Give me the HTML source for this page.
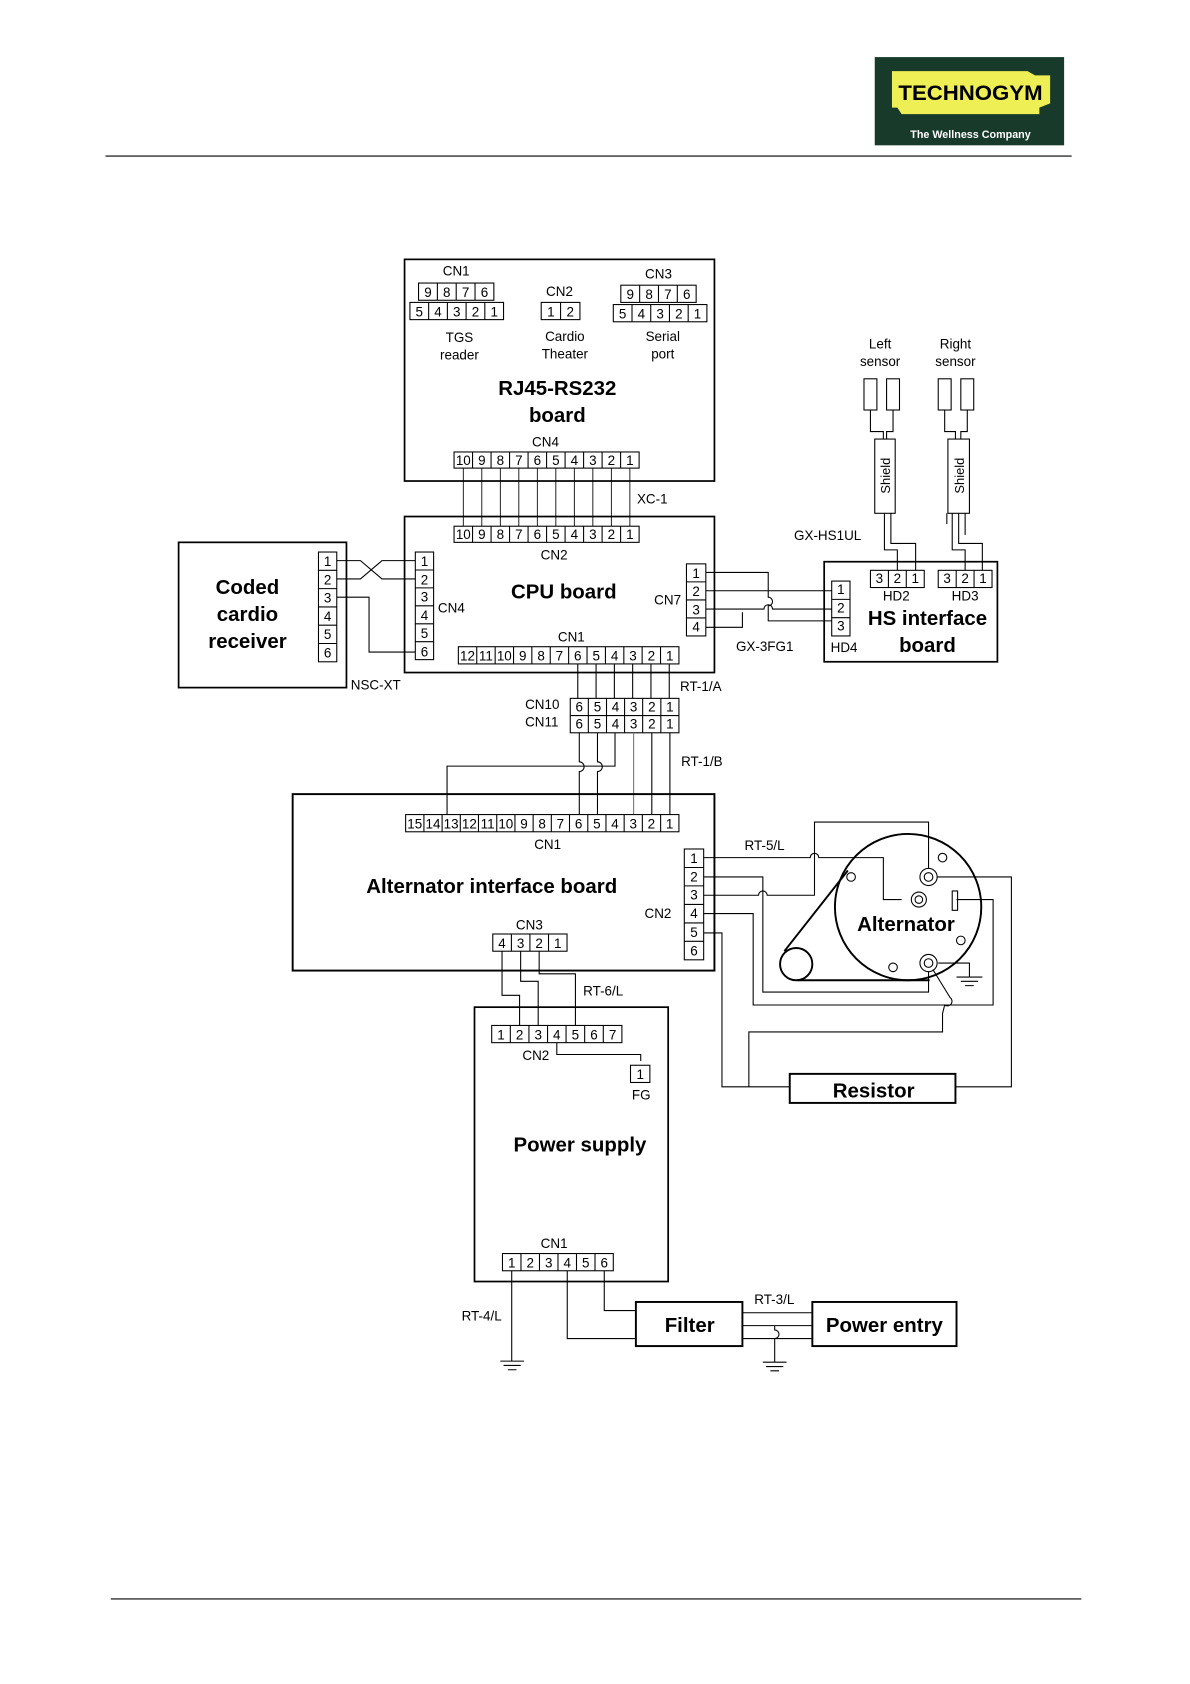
<!DOCTYPE html>
<html><head><meta charset="utf-8"><style>
html,body{margin:0;padding:0;background:#fff;}
svg{display:block;}
text{font-family:"Liberation Sans",Arial,sans-serif;fill:#000;}
.c{font-size:12.5px;text-anchor:middle;}
.l{font-size:12.5px;}
.b{font-size:19px;font-weight:bold;text-anchor:middle;}
</style></head><body>
<svg width="1190" height="1684" viewBox="0 0 1106 1565" xmlns="http://www.w3.org/2000/svg">
<g fill="none" stroke="#000" stroke-width="1">
<rect x="813" y="53" width="176" height="82" fill="#173a2a" stroke="none"/>
<polygon points="829,66 955,66 962,70 976,70 976,96 966,100 966,106 838,106 834,100 829,100" fill="#eeee55" stroke="none"/>
<line x1="98" y1="145" x2="996" y2="145"/>
<line x1="103" y1="1486" x2="1005" y2="1486"/>

<rect x="376" y="241" width="288" height="206" stroke-width="1.6"/>
<rect x="389" y="263" width="70" height="16"/><path d="M406.5 263v16M424 263v16M441.5 263v16"/>
<rect x="381" y="281" width="87" height="16"/><path d="M398.4 281v16M415.8 281v16M433.2 281v16M450.6 281v16"/>
<rect x="503" y="281" width="36" height="16"/><path d="M521 281v16"/>
<rect x="577" y="265" width="70" height="16"/><path d="M594.5 265v16M612 265v16M629.5 265v16"/>
<rect x="570" y="283" width="87" height="16"/><path d="M587.4 283v16M604.8 283v16M622.2 283v16M639.6 283v16"/>
<rect x="422" y="420" width="172" height="15"/>
<path d="M439.2 420v15M456.4 420v15M473.6 420v15M490.8 420v15M508 420v15M525.2 420v15M542.4 420v15M559.6 420v15M576.8 420v15"/>
<path d="M430.6 435v54M447.8 435v54M465 435v54M482.2 435v54M499.4 435v54M516.6 435v54M533.8 435v54M551 435v54M568.2 435v54M585.4 435v54" stroke-width="0.8"/>

<rect x="376" y="480" width="288" height="145" stroke-width="1.6"/>
<rect x="422" y="489" width="172" height="15"/>
<path d="M439.2 489v15M456.4 489v15M473.6 489v15M490.8 489v15M508 489v15M525.2 489v15M542.4 489v15M559.6 489v15M576.8 489v15"/>
<rect x="386" y="513" width="17" height="100"/><path d="M386 529.7h17M386 546.3h17M386 563h17M386 579.7h17M386 596.3h17"/>
<rect x="638" y="524" width="18" height="67"/><path d="M638 540.75h18M638 557.5h18M638 574.25h18"/>
<rect x="426" y="601" width="205" height="16"/>
<path d="M443.1 601v16M460.2 601v16M477.3 601v16M494.3 601v16M511.4 601v16M528.5 601v16M545.6 601v16M562.7 601v16M579.8 601v16M596.8 601v16M613.9 601v16"/>

<rect x="166" y="504" width="156" height="135" stroke-width="1.6"/>
<rect x="296" y="513" width="17" height="102"/><path d="M296 530h17M296 547h17M296 564h17M296 581h17M296 598h17"/>
<path d="M313 521h22l20 17h31M313 538h22l20-17h31M313 555h30v51h43"/>

<path d="M656 532h58v23a4 4 0 0 1 0 8v14h59"/>
<path d="M656 549h117"/>
<path d="M656 566h54a4 4 0 0 1 8 0h55"/>
<path d="M656 583h34v-14"/>

<rect x="766" y="522" width="161" height="93" stroke-width="1.6"/>
<rect x="773" y="540" width="17" height="51"/><path d="M773 557h17M773 574h17"/>
<rect x="809" y="530" width="50" height="16"/><path d="M825.7 530v16M842.3 530v16"/>
<rect x="872" y="530" width="50" height="16"/><path d="M888.7 530v16M905.3 530v16"/>
<rect x="803" y="352" width="12" height="29"/><rect x="824" y="352" width="12" height="29"/>
<rect x="872" y="352" width="12" height="29"/><rect x="893" y="352" width="12" height="29"/>
<rect x="813" y="408" width="19" height="69"/><rect x="881" y="408" width="20" height="69"/>
<path d="M809 381v20h12v7M830 381v20h-6v7M878 381v20h10v7M899 381v20h-6v7"/>
<path d="M822 477v34h12v19M828 477v28h23v25"/>
<path d="M880 477v10M885 477v34h12v19M891 477v28h22v25M897 477v20"/>

<path d="M537 617v32M554 617v32M571 617v32M588 617v32M605 617v32M622 617v32"/>
<rect x="530" y="649" width="101" height="32"/><path d="M530 665h101"/>
<path d="M546.8 649v32M563.7 649v32M580.5 649v32M597.3 649v32M614.2 649v32"/>
<path d="M571.6 681v31H415.5v45"/>
<path d="M538.4 681v27a4 4 0 0 1 0 9v40M555.3 681v27a4 4 0 0 1 0 9v40"/>
<path d="M588.9 681v76" stroke="#777"/><path d="M605.8 681v76M622.6 681v76"/>

<rect x="272" y="738" width="392" height="164" stroke-width="1.8"/>
<rect x="377" y="757" width="254" height="16"/>
<path d="M394 757v16M410.9 757v16M427.8 757v16M444.7 757v16M461.7 757v16M478.6 757v16M495.5 757v16M512.4 757v16M529.3 757v16M546.3 757v16M563.2 757v16M580.1 757v16M597 757v16M614 757v16"/>
<rect x="636" y="789" width="18" height="103"/><path d="M636 806.2h18M636 823.3h18M636 840.5h18M636 857.7h18M636 874.8h18"/>
<rect x="458" y="868" width="69" height="16"/><path d="M475.3 868v16M492.5 868v16M509.8 868v16"/>

<path d="M654 797h99a4 4 0 0 1 8 0h60v39h17"/>
<path d="M654 815h55v107h154v-19"/>
<path d="M654 832h51a4 4 0 0 1 8 0h44v-68h106v43"/>
<path d="M654 849h46v85h223v-98h-34"/>
<path d="M654 867h17v143h63"/>
<path d="M871 815h69v195h-52"/>
<path d="M867 901l16 26a4 4 0 0 1 -5 7l-2 8v17H696v51"/>
<path d="M872 895h29v13M889 908h24M893 912h16M897 916h8"/>
<circle cx="844" cy="843" r="68" stroke-width="1.8"/>
<circle cx="740" cy="896" r="15" stroke-width="1.8"/>
<path d="M729 884L788 809M741 911H864" stroke-width="1.8"/>
<circle cx="863" cy="815" r="8"/><circle cx="863" cy="815" r="4"/>
<circle cx="854" cy="836" r="7"/><circle cx="854" cy="836" r="3.5"/>
<circle cx="863" cy="895" r="8"/><circle cx="863" cy="895" r="4"/>
<circle cx="876" cy="797" r="4"/><circle cx="791" cy="815" r="4"/><circle cx="893" cy="874" r="4"/><circle cx="830" cy="899" r="4"/>
<rect x="885" y="828" width="5" height="18"/>
<rect x="734" y="998" width="154" height="27" stroke-width="1.8"/>

<path d="M466.6 884v41h16.3v28M483.9 884v28h16.3v41M501.1 884v21h33.7v48"/>
<rect x="441" y="936" width="180" height="255" stroke-width="1.6"/>
<rect x="457" y="953" width="121" height="16"/>
<path d="M474.3 953v16M491.6 953v16M508.9 953v16M526.1 953v16M543.4 953v16M560.7 953v16"/>
<path d="M517.5 969v11h78v6"/>
<rect x="586" y="990" width="18" height="16"/>
<rect x="467" y="1165" width="103" height="16"/>
<path d="M484.2 1165v16M501.4 1165v16M518.6 1165v16M535.8 1165v16M553 1165v16"/>
<path d="M475.6 1181v84M465 1265h22M468 1269h16M472 1273h8"/>
<path d="M527.2 1181v63h64M561.6 1181v37h30"/>
<rect x="591" y="1210" width="99" height="41" stroke-width="1.8"/>
<rect x="755" y="1210" width="134" height="41" stroke-width="1.8"/>
<path d="M690 1220h65M690 1232h65M690 1244h65"/>
<path d="M720 1232v4a4 4 0 0 1 0 8v22M709 1266h22M712 1270h16M716 1274h8"/>
</g>

<text x="902" y="93" textLength="134" lengthAdjust="spacingAndGlyphs" style="font-size:20px;font-weight:bold;text-anchor:middle;" fill="#000">TECHNOGYM</text>
<text x="902" y="128" style="font-size:10px;font-weight:bold;text-anchor:middle;fill:#fff;">The Wellness Company</text>

<text class="c" x="424" y="256">CN1</text>
<text class="c" x="397.75" y="276">9</text><text class="c" x="415.25" y="276">8</text><text class="c" x="432.75" y="276">7</text><text class="c" x="450.25" y="276">6</text>
<text class="c" x="389.7" y="294">5</text><text class="c" x="407.1" y="294">4</text><text class="c" x="424.5" y="294">3</text><text class="c" x="441.9" y="294">2</text><text class="c" x="459.3" y="294">1</text>
<text class="c" x="520" y="275">CN2</text>
<text class="c" x="512" y="294">1</text><text class="c" x="530" y="294">2</text>
<text class="c" x="612" y="259">CN3</text>
<text class="c" x="585.75" y="278">9</text><text class="c" x="603.25" y="278">8</text><text class="c" x="620.75" y="278">7</text><text class="c" x="638.25" y="278">6</text>
<text class="c" x="578.7" y="296">5</text><text class="c" x="596.1" y="296">4</text><text class="c" x="613.5" y="296">3</text><text class="c" x="630.9" y="296">2</text><text class="c" x="648.3" y="296">1</text>
<text class="c" x="427" y="318">TGS</text><text class="c" x="427" y="334">reader</text>
<text class="c" x="525" y="317">Cardio</text><text class="c" x="525" y="333">Theater</text>
<text class="c" x="616" y="317">Serial</text><text class="c" x="616" y="333">port</text>
<text class="b" x="518" y="367">RJ45-RS232</text><text class="b" x="518" y="392">board</text>
<text class="c" x="507" y="415">CN4</text>
<text class="c" x="430.6" y="432">10</text><text class="c" x="447.8" y="432">9</text><text class="c" x="465" y="432">8</text><text class="c" x="482.2" y="432">7</text><text class="c" x="499.4" y="432">6</text><text class="c" x="516.6" y="432">5</text><text class="c" x="533.8" y="432">4</text><text class="c" x="551" y="432">3</text><text class="c" x="568.2" y="432">2</text><text class="c" x="585.4" y="432">1</text>
<text class="c" x="430.6" y="501">10</text><text class="c" x="447.8" y="501">9</text><text class="c" x="465" y="501">8</text><text class="c" x="482.2" y="501">7</text><text class="c" x="499.4" y="501">6</text><text class="c" x="516.6" y="501">5</text><text class="c" x="533.8" y="501">4</text><text class="c" x="551" y="501">3</text><text class="c" x="568.2" y="501">2</text><text class="c" x="585.4" y="501">1</text>
<text class="l" x="592" y="468">XC-1</text>
<text class="c" x="515" y="520">CN2</text>
<text class="b" x="524" y="556">CPU board</text>
<text class="l" x="407" y="569">CN4</text>
<text class="l" x="608" y="562">CN7</text>
<text class="c" x="531" y="596">CN1</text>
<text class="c" x="394.5" y="526">1</text><text class="c" x="394.5" y="543">2</text><text class="c" x="394.5" y="559">3</text><text class="c" x="394.5" y="576">4</text><text class="c" x="394.5" y="593">5</text><text class="c" x="394.5" y="610">6</text>
<text class="c" x="647" y="537">1</text><text class="c" x="647" y="554">2</text><text class="c" x="647" y="571">3</text><text class="c" x="647" y="587">4</text>
<text class="c" x="434.5" y="614">12</text><text class="c" x="451.6" y="614">11</text><text class="c" x="468.7" y="614">10</text><text class="c" x="485.8" y="614">9</text><text class="c" x="502.9" y="614">8</text><text class="c" x="519.9" y="614">7</text><text class="c" x="537" y="614">6</text><text class="c" x="554.1" y="614">5</text><text class="c" x="571.2" y="614">4</text><text class="c" x="588.3" y="614">3</text><text class="c" x="605.4" y="614">2</text><text class="c" x="622.5" y="614">1</text>

<text class="b" x="230" y="552">Coded</text><text class="b" x="230" y="577">cardio</text><text class="b" x="230" y="602">receiver</text>
<text class="c" x="304.5" y="526">1</text><text class="c" x="304.5" y="543">2</text><text class="c" x="304.5" y="560">3</text><text class="c" x="304.5" y="577">4</text><text class="c" x="304.5" y="594">5</text><text class="c" x="304.5" y="611">6</text>
<text class="l" x="326" y="641">NSC-XT</text>

<text class="l" x="684" y="605">GX-3FG1</text>
<text class="l" x="738" y="502">GX-HS1UL</text>
<text class="c" x="818" y="324">Left</text><text class="c" x="818" y="340">sensor</text>
<text class="c" x="888" y="324">Right</text><text class="c" x="888" y="340">sensor</text>
<text style="font-size:12px;text-anchor:middle;" transform="translate(827,442) rotate(-90)">Shield</text>
<text style="font-size:12px;text-anchor:middle;" transform="translate(896,442) rotate(-90)">Shield</text>
<text class="c" x="817.3" y="542">3</text><text class="c" x="834" y="542">2</text><text class="c" x="850.6" y="542">1</text>
<text class="c" x="880.3" y="542">3</text><text class="c" x="897" y="542">2</text><text class="c" x="913.6" y="542">1</text>
<text class="c" x="833" y="558">HD2</text><text class="c" x="897" y="558">HD3</text>
<text class="c" x="781.5" y="552">1</text><text class="c" x="781.5" y="569">2</text><text class="c" x="781.5" y="586">3</text>
<text class="b" x="862" y="581">HS interface</text><text class="b" x="862" y="606">board</text>
<text class="l" x="772" y="606">HD4</text>

<text class="l" x="632" y="642">RT-1/A</text>
<text class="l" x="488" y="659">CN10</text><text class="l" x="488" y="675">CN11</text>
<text class="c" x="538.4" y="661">6</text><text class="c" x="555.3" y="661">5</text><text class="c" x="572.1" y="661">4</text><text class="c" x="588.9" y="661">3</text><text class="c" x="605.8" y="661">2</text><text class="c" x="622.6" y="661">1</text>
<text class="c" x="538.4" y="677">6</text><text class="c" x="555.3" y="677">5</text><text class="c" x="572.1" y="677">4</text><text class="c" x="588.9" y="677">3</text><text class="c" x="605.8" y="677">2</text><text class="c" x="622.6" y="677">1</text>
<text class="l" x="633" y="712">RT-1/B</text>

<text class="c" x="385.5" y="770">15</text><text class="c" x="402.4" y="770">14</text><text class="c" x="419.3" y="770">13</text><text class="c" x="436.2" y="770">12</text><text class="c" x="453.2" y="770">11</text><text class="c" x="470.1" y="770">10</text><text class="c" x="487" y="770">9</text><text class="c" x="503.9" y="770">8</text><text class="c" x="520.8" y="770">7</text><text class="c" x="537.8" y="770">6</text><text class="c" x="554.7" y="770">5</text><text class="c" x="571.6" y="770">4</text><text class="c" x="588.5" y="770">3</text><text class="c" x="605.4" y="770">2</text><text class="c" x="622.4" y="770">1</text>
<text class="c" x="509" y="789">CN1</text>
<text class="b" x="457" y="830">Alternator interface board</text>
<text class="l" x="599" y="853">CN2</text>
<text class="c" x="645" y="802">1</text><text class="c" x="645" y="819">2</text><text class="c" x="645" y="836">3</text><text class="c" x="645" y="853">4</text><text class="c" x="645" y="871">5</text><text class="c" x="645" y="888">6</text>
<text class="c" x="492" y="864">CN3</text>
<text class="c" x="466.6" y="881">4</text><text class="c" x="483.9" y="881">3</text><text class="c" x="501.1" y="881">2</text><text class="c" x="518.4" y="881">1</text>
<text class="l" x="692" y="790">RT-5/L</text>
<text class="b" x="842" y="865">Alternator</text>
<text class="b" x="812" y="1020">Resistor</text>

<text class="l" x="542" y="925">RT-6/L</text>
<text class="c" x="465.6" y="966">1</text><text class="c" x="482.9" y="966">2</text><text class="c" x="500.2" y="966">3</text><text class="c" x="517.5" y="966">4</text><text class="c" x="534.8" y="966">5</text><text class="c" x="552.1" y="966">6</text><text class="c" x="569.4" y="966">7</text>
<text class="c" x="498" y="985">CN2</text>
<text class="c" x="595" y="1003">1</text><text class="c" x="596" y="1022">FG</text>
<text class="b" x="539" y="1070">Power supply</text>
<text class="c" x="515" y="1160">CN1</text>
<text class="c" x="475.6" y="1178">1</text><text class="c" x="492.8" y="1178">2</text><text class="c" x="510" y="1178">3</text><text class="c" x="527.2" y="1178">4</text><text class="c" x="544.4" y="1178">5</text><text class="c" x="561.6" y="1178">6</text>
<text class="l" x="429" y="1227">RT-4/L</text>
<text class="b" x="641" y="1238">Filter</text>
<text class="l" x="701" y="1212">RT-3/L</text>
<text class="b" x="822" y="1238">Power entry</text>
</svg>
</body></html>
